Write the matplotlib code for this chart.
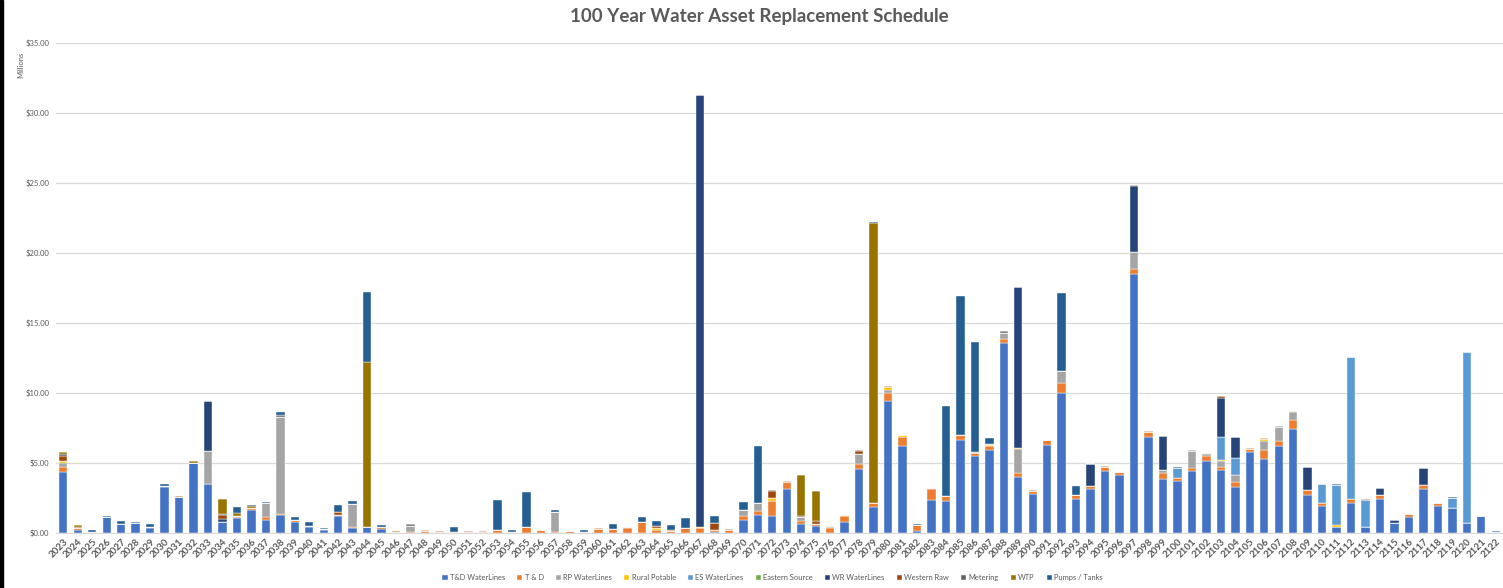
import numpy as np
import matplotlib
matplotlib.use("Agg")
import matplotlib.pyplot as plt
from matplotlib.patches import Rectangle

plt.rcParams['font.family'] = ['Lato', 'DejaVu Sans']

# years on the x axis
years = list(range(2023, 2123))

# values in $ millions, one row per 10 years (2023-2032, 2033-2042, ...)
td_waterlines = [
    4.33, 0.25, 0.04, 1.18, 0.64, 0.71, 0.36, 3.29, 2.55, 5.02,
    3.48, 0.76, 1.07, 1.62, 0.90, 1.29, 0.76, 0.40, 0.19, 1.19,
    0.33, 0.42, 0.29, 0, 0, 0, 0, 0, 0, 0,
    0, 0, 0, 0, 0, 0, 0, 0, 0, 0,
    0, 0, 0, 0, 0, 0.10, 0, 0.95, 1.31, 1.24,
    3.14, 0.62, 0.50, 0, 0.81, 4.57, 1.88, 9.43, 6.24, 0.12,
    2.38, 2.31, 6.62, 5.50, 5.93, 13.55, 3.98, 2.76, 6.29, 9.98,
    2.40, 3.17, 4.45, 4.17, 18.48, 6.83, 3.86, 3.74, 4.43, 5.12,
    4.48, 3.31, 5.79, 5.29, 6.19, 7.43, 2.71, 1.90, 0.45, 2.14,
    0.45, 2.43, 0.69, 1.14, 3.14, 1.95, 1.81, 0.69, 1.21, 0.05,
]
t_and_d = [
    0.38, 0.12, 0, 0, 0, 0, 0.05, 0.05, 0.04, 0,
    0, 0, 0.08, 0.17, 0.22, 0.09, 0.14, 0.10, 0.12, 0.12,
    0.07, 0, 0.11, 0, 0.05, 0.12, 0.10, 0.05, 0.10, 0.10,
    0.24, 0.10, 0.40, 0.21, 0.05, 0.12, 0.10, 0.31, 0.29, 0.33,
    0.76, 0.19, 0.14, 0.38, 0.36, 0.10, 0.21, 0.26, 0.24, 1.02,
    0.50, 0.24, 0.17, 0.35, 0.43, 0.38, 0.26, 0.57, 0.64, 0.43,
    0.76, 0.31, 0.40, 0.20, 0.28, 0.31, 0.33, 0.24, 0.33, 0.71,
    0.29, 0.21, 0.26, 0.16, 0.35, 0.36, 0.40, 0.19, 0.19, 0.36,
    0.21, 0.33, 0.19, 0.64, 0.41, 0.67, 0.34, 0.24, 0, 0.29,
    0, 0.26, 0.05, 0.19, 0.26, 0.19, 0, 0, 0, 0,
]
rp_waterlines = [
    0.29, 0, 0, 0, 0, 0, 0, 0, 0, 0,
    2.35, 0, 0.10, 0, 1.02, 6.93, 0, 0, 0, 0,
    1.67, 0, 0, 0.06, 0.45, 0, 0, 0, 0, 0,
    0, 0, 0, 0, 1.43, 0, 0, 0, 0, 0.07,
    0, 0, 0, 0, 0, 0, 0, 0.46, 0.59, 0,
    0, 0.31, 0, 0.05, 0, 0.72, 0, 0.21, 0, 0,
    0.10, 0, 0, 0, 0, 0.40, 1.71, 0, 0, 0.88,
    0, 0, 0, 0, 1.27, 0, 0.22, 0, 1.21, 0.14,
    0.45, 0.53, 0, 0.67, 1.00, 0.54, 0, 0, 0, 0,
    0, 0, 0, 0, 0, 0, 0, 0, 0, 0,
]
rural_potable = [
    0.14, 0, 0, 0, 0, 0, 0, 0, 0, 0,
    0, 0, 0, 0, 0, 0, 0, 0, 0, 0,
    0, 0, 0, 0, 0, 0, 0, 0, 0, 0,
    0, 0, 0, 0, 0, 0, 0, 0, 0, 0,
    0, 0.14, 0, 0, 0.09, 0, 0, 0, 0, 0.26,
    0, 0, 0, 0.08, 0.07, 0, 0, 0.19, 0.10, 0,
    0, 0, 0, 0, 0.05, 0, 0.05, 0, 0, 0,
    0, 0, 0, 0, 0, 0, 0, 0, 0, 0.07,
    0.05, 0, 0, 0.14, 0, 0.10, 0, 0, 0.15, 0,
    0, 0, 0, 0, 0, 0, 0, 0, 0, 0,
]
es_waterlines = [
    0, 0, 0, 0, 0, 0, 0, 0, 0, 0,
    0, 0, 0, 0, 0, 0, 0, 0, 0, 0,
    0, 0, 0, 0, 0, 0, 0, 0, 0, 0,
    0, 0, 0, 0, 0, 0, 0, 0, 0, 0,
    0, 0, 0, 0, 0, 0, 0, 0, 0, 0,
    0, 0, 0, 0, 0, 0, 0, 0, 0, 0,
    0, 0, 0, 0, 0, 0, 0, 0, 0, 0,
    0, 0, 0, 0, 0, 0, 0, 0.71, 0, 0,
    1.67, 1.19, 0, 0, 0, 0, 0, 1.34, 2.83, 10.17,
    1.92, 0, 0, 0, 0, 0, 0.71, 12.21, 0, 0,
]
eastern_source = [
    0, 0, 0, 0, 0, 0, 0, 0, 0, 0,
    0, 0, 0, 0, 0, 0, 0, 0, 0, 0,
    0, 0, 0, 0, 0, 0, 0, 0, 0, 0,
    0, 0, 0, 0, 0, 0, 0, 0, 0, 0,
    0, 0, 0, 0, 0, 0, 0, 0, 0, 0,
    0, 0, 0, 0, 0, 0, 0, 0, 0, 0,
    0, 0, 0, 0.10, 0.12, 0, 0, 0, 0, 0,
    0, 0, 0, 0, 0, 0, 0, 0, 0, 0,
    0, 0, 0, 0, 0, 0, 0, 0, 0, 0,
    0, 0, 0, 0, 0, 0, 0, 0, 0, 0,
]
wr_waterlines = [
    0, 0, 0, 0, 0, 0, 0, 0, 0, 0,
    3.57, 0.24, 0, 0, 0, 0, 0, 0, 0, 0,
    0, 0, 0, 0, 0, 0, 0, 0, 0, 0,
    0, 0, 0, 0, 0, 0, 0, 0, 0, 0,
    0, 0, 0, 0, 30.85, 0, 0, 0, 0, 0,
    0, 0, 0, 0, 0, 0, 0, 0, 0, 0,
    0, 0, 0, 0, 0, 0, 11.48, 0, 0, 0,
    0, 1.52, 0, 0, 4.69, 0, 2.47, 0, 0, 0,
    2.78, 1.50, 0, 0, 0, 0, 1.64, 0, 0, 0,
    0, 0.50, 0.16, 0, 1.22, 0, 0, 0, 0, 0,
]
western_raw = [
    0.34, 0.08, 0, 0, 0, 0, 0, 0, 0, 0,
    0, 0.30, 0, 0, 0, 0, 0.05, 0, 0, 0.19,
    0, 0, 0.05, 0, 0, 0.07, 0.05, 0.05, 0.02, 0.02,
    0, 0, 0, 0.04, 0, 0.02, 0, 0.02, 0, 0,
    0, 0.17, 0.06, 0, 0, 0.51, 0.05, 0, 0, 0.48,
    0.07, 0, 0.16, 0, 0, 0.21, 0, 0.10, 0, 0,
    0, 0, 0, 0, 0, 0, 0, 0.07, 0.05, 0,
    0, 0.05, 0.05, 0.03, 0.10, 0.07, 0, 0, 0, 0,
    0.17, 0, 0.09, 0.06, 0, 0, 0, 0, 0, 0,
    0.03, 0, 0, 0.05, 0, 0.03, 0, 0, 0, 0,
]
metering = [
    0.14, 0, 0, 0, 0, 0, 0, 0, 0, 0,
    0, 0.08, 0, 0, 0, 0.09, 0, 0, 0, 0,
    0, 0, 0, 0, 0.12, 0, 0, 0, 0, 0,
    0, 0, 0, 0, 0, 0, 0, 0, 0, 0,
    0, 0, 0, 0, 0, 0, 0, 0, 0, 0.05,
    0, 0.03, 0.05, 0, 0, 0.07, 0, 0, 0, 0,
    0, 0, 0, 0, 0, 0.17, 0, 0, 0, 0,
    0, 0, 0, 0, 0, 0, 0, 0, 0.07, 0,
    0, 0, 0, 0, 0.07, 0, 0, 0, 0, 0,
    0, 0.05, 0, 0, 0, 0, 0, 0, 0, 0,
]
wtp = [
    0.16, 0.10, 0, 0, 0, 0, 0, 0.05, 0.08, 0.10,
    0.05, 1.07, 0.15, 0.11, 0, 0, 0, 0, 0, 0,
    0, 11.78, 0, 0.06, 0, 0, 0, 0, 0, 0,
    0, 0, 0, 0, 0, 0, 0, 0, 0, 0,
    0, 0, 0, 0, 0, 0, 0, 0, 0, 0,
    0, 2.97, 2.12, 0, 0, 0, 20.00, 0, 0, 0,
    0, 0, 0, 0, 0, 0, 0, 0, 0, 0,
    0, 0, 0, 0, 0, 0, 0, 0, 0, 0,
    0, 0, 0, 0, 0, 0, 0, 0, 0, 0,
    0, 0, 0, 0, 0, 0, 0, 0, 0, 0,
]
pumps_tanks = [
    0, 0, 0.16, 0.03, 0.22, 0.10, 0.21, 0.13, 0, 0,
    0, 0, 0.43, 0.10, 0.10, 0.27, 0.22, 0.29, 0.05, 0.50,
    0.24, 5.04, 0.10, 0, 0, 0.03, 0, 0.30, 0, 0,
    2.14, 0.09, 2.53, 0, 0.14, 0, 0.11, 0, 0.35, 0,
    0.36, 0.36, 0.40, 0.67, 0, 0.50, 0.03, 0.57, 4.05, 0,
    0, 0, 0, 0, 0, 0, 0.10, 0, 0, 0.12,
    0, 6.45, 9.93, 7.86, 0.38, 0, 0, 0, 0, 5.55,
    0.69, 0, 0, 0, 0, 0, 0, 0.10, 0, 0,
    0, 0, 0.03, 0, 0, 0, 0, 0.04, 0.05, 0,
    0.05, 0, 0, 0, 0, 0, 0.03, 0, 0.03, 0.06,
]

series = [
    ("T&D WaterLines", td_waterlines, "#4472C4"),
    ("T & D", t_and_d, "#ED7D31"),
    ("RP WaterLines", rp_waterlines, "#A5A5A5"),
    ("Rural Potable", rural_potable, "#FFC000"),
    ("ES WaterLines", es_waterlines, "#5B9BD5"),
    ("Eastern Source", eastern_source, "#70AD47"),
    ("WR WaterLines", wr_waterlines, "#264478"),
    ("Western Raw", western_raw, "#9E480E"),
    ("Metering", metering, "#636363"),
    ("WTP", wtp, "#997300"),
    ("Pumps / Tanks", pumps_tanks, "#255E91"),
]

txt = "#595959"
fig = plt.figure(figsize=(15.03, 5.88), dpi=100)
ax = fig.add_axes([0.0373, 0.0935, 0.9627, 0.8334])

x = np.arange(len(years))
bottom = np.zeros(len(years))
for name, vals, col in series:
    vals = np.array(vals)
    ax.bar(x, vals, 0.58, bottom=bottom, color=col, label=name,
           edgecolor="white", linewidth=0.3)
    bottom += vals

ax.set_xlim(-0.5, len(years) - 0.5)
ax.set_ylim(0, 35)
ax.set_yticks(np.arange(0, 36, 5))
ax.set_yticklabels(["${:.2f}".format(v) for v in np.arange(0, 36, 5)],
                   fontsize=5.5, color=txt)
ax.set_xticks(x)
ax.set_xticklabels([str(y) for y in years], rotation=45, ha="right",
                   rotation_mode="anchor", fontsize=7, color=txt,
                   fontweight="bold")
ax.tick_params(axis="both", length=0, pad=3)
ax.tick_params(axis="y", pad=5)
for s in ["top", "right", "left"]:
    ax.spines[s].set_visible(False)
ax.spines["bottom"].set_color("#D9D9D9")
ax.yaxis.grid(True, color="#D9D9D9", linewidth=0.9)
ax.set_axisbelow(True)

fig.text(0.0135, 0.89, "Millions", rotation=90, fontsize=5.5, color=txt,
         ha="center", va="center")
fig.text(0.505, 0.972, "100 Year Water Asset Replacement Schedule",
         fontsize=13.5, fontweight="bold", color=txt, ha="center", va="center")

fig.legend(loc="center", bbox_to_anchor=(0.514, 0.018), ncol=11,
           frameon=False, fontsize=5.4, handlelength=0.7, handleheight=0.7,
           handletextpad=0.3, columnspacing=1.6, labelcolor=txt)

# dark border strip on the left edge of the screenshot
fig.patches.append(Rectangle((0, 0), 0.002, 1, transform=fig.transFigure,
                             color="black", zorder=10))

fig.savefig("out.png", dpi=100)
